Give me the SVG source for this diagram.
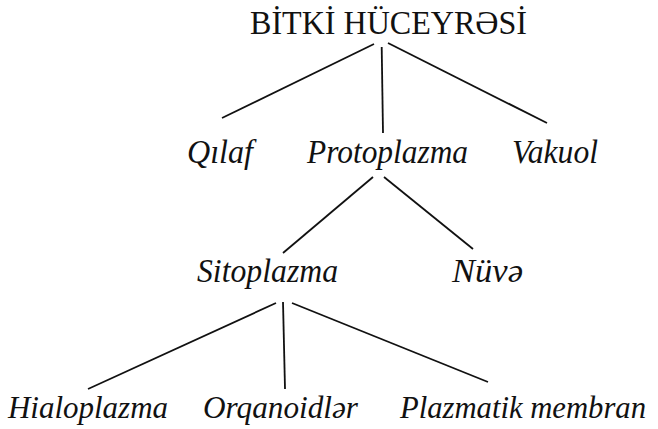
<svg xmlns="http://www.w3.org/2000/svg" width="658" height="429" viewBox="0 0 658 429">
<style>
text{font-family:'Liberation Serif','Times New Roman',serif;font-size:33px;fill:#111}
.i{font-style:italic}
.b{font-size:32px}
.c line{stroke:#111;stroke-width:1.8;stroke-linecap:butt}
</style>
<rect width="658" height="429" fill="#fff"/>
<g id="connectors" class="c">
<line x1="374" y1="44" x2="222" y2="118"/>
<line x1="381.7" y1="47" x2="383" y2="133"/>
<line x1="388" y1="43" x2="547" y2="123"/>
<line x1="373" y1="177" x2="283" y2="253"/>
<line x1="384" y1="177" x2="473" y2="249"/>
<line x1="276" y1="303" x2="88" y2="389"/>
<line x1="283" y1="302" x2="285" y2="389"/>
<line x1="292" y1="303" x2="488" y2="382"/>
</g>
<g id="root"><text x="250" y="34" textLength="277" lengthAdjust="spacingAndGlyphs">BİTKİ HÜCEYRƏSİ</text></g>
<g id="qilaf"><text class="i" x="187" y="163" textLength="66" lengthAdjust="spacingAndGlyphs">Qılaf</text></g>
<g id="protoplazma"><text class="i" x="307" y="163" textLength="161" lengthAdjust="spacingAndGlyphs">Protoplazma</text></g>
<g id="vakuol"><text class="i" x="512" y="163" textLength="86" lengthAdjust="spacingAndGlyphs">Vakuol</text></g>
<g id="sitoplazma"><text class="i" x="197" y="282" textLength="141" lengthAdjust="spacingAndGlyphs">Sitoplazma</text></g>
<g id="nuve"><text class="i" x="452" y="282" textLength="71" lengthAdjust="spacingAndGlyphs">Nüvə</text></g>
<g id="hialoplazma"><text class="i b" x="8" y="418" textLength="160" lengthAdjust="spacingAndGlyphs">Hialoplazma</text></g>
<g id="orqanoidler"><text class="i b" x="203" y="418" textLength="155" lengthAdjust="spacingAndGlyphs">Orqanoidlər</text></g>
<g id="plazmatik"><text class="i b" x="400" y="418" textLength="246" lengthAdjust="spacingAndGlyphs">Plazmatik membran</text></g>
</svg>
